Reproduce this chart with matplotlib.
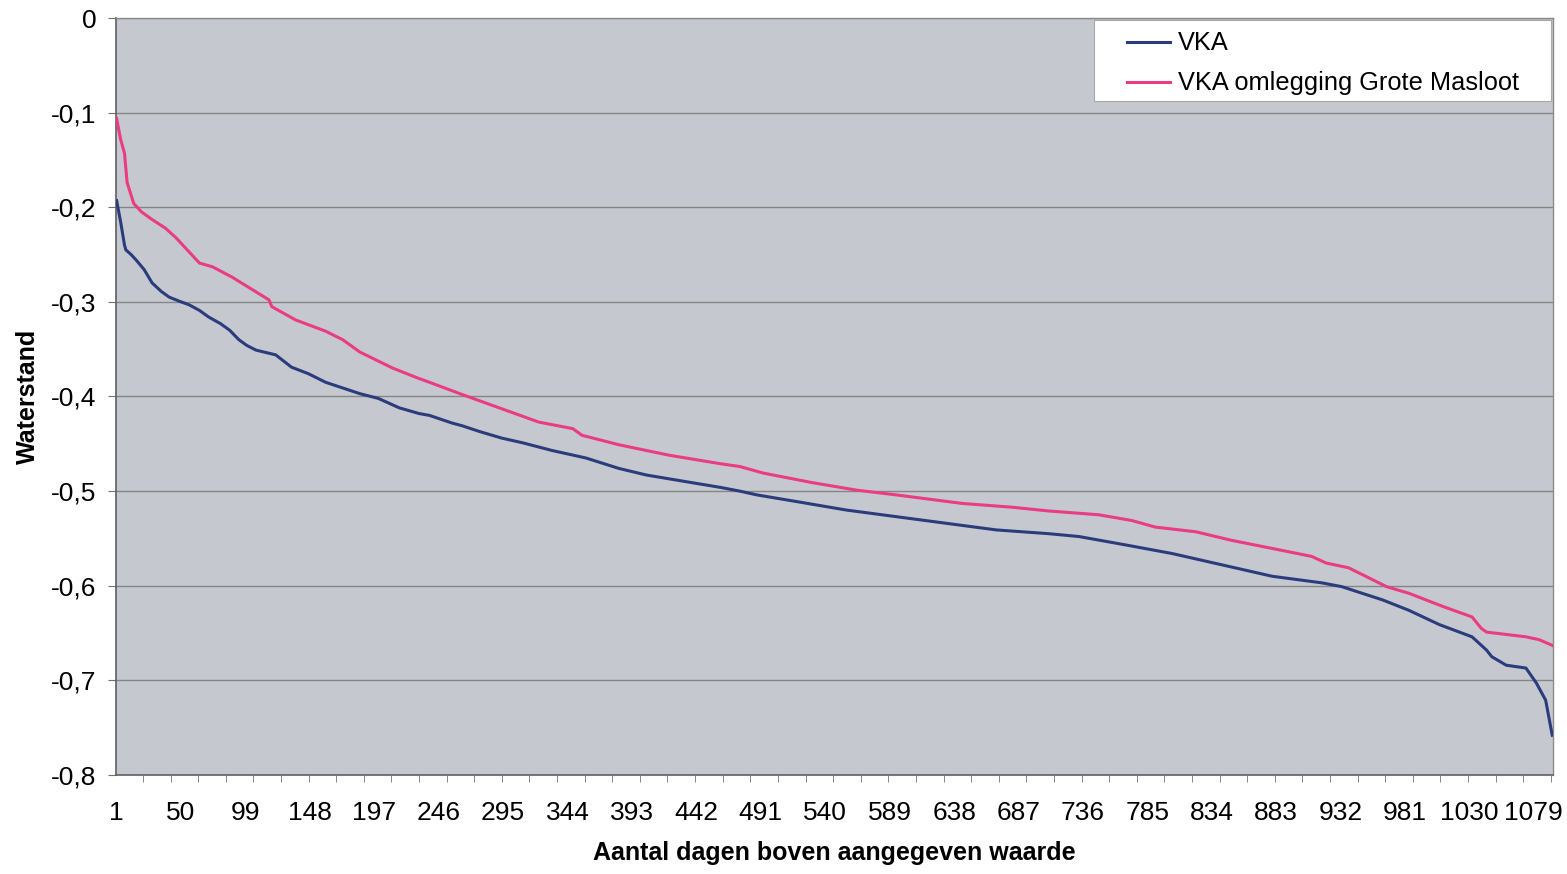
import matplotlib
matplotlib.use("Agg")
import matplotlib.pyplot as plt
from matplotlib.patches import Rectangle
from matplotlib.ticker import FuncFormatter, MultipleLocator

plt.rcParams['font.family'] = ['Liberation Sans', 'DejaVu Sans']

n_days = 1093

# overschrijdingsduur: dag-index en waterstand
vka_days = [1, 4, 7, 8, 12, 16, 22, 28, 35, 41, 50, 56, 64, 71, 80, 87, 94, 100,
            107, 122, 134, 147, 160, 173, 186, 200, 216, 231, 239, 256, 264, 277,
            294, 310, 332, 358, 383, 404, 434, 460, 475, 488, 518, 556, 594, 632,
            670, 710, 733, 769, 804, 842, 880, 918, 933, 944, 964, 984, 1007,
            1032, 1043, 1047, 1058, 1073, 1081, 1088, 1093]
vka = [-0.193, -0.215, -0.240, -0.245, -0.250, -0.256, -0.266, -0.280, -0.289,
       -0.295, -0.300, -0.303, -0.309, -0.316, -0.323, -0.330, -0.340, -0.346,
       -0.351, -0.356, -0.369, -0.376, -0.385, -0.391, -0.397, -0.402, -0.412,
       -0.418, -0.420, -0.428, -0.431, -0.437, -0.444, -0.449, -0.457, -0.465,
       -0.476, -0.483, -0.490, -0.496, -0.500, -0.504, -0.511, -0.520, -0.527,
       -0.534, -0.541, -0.545, -0.548, -0.557, -0.566, -0.578, -0.590, -0.597,
       -0.601, -0.606, -0.615, -0.626, -0.641, -0.654, -0.668, -0.675, -0.684,
       -0.687, -0.703, -0.721, -0.758]

oml_days = [1, 4, 7, 9, 14, 20, 28, 38, 46, 56, 64, 74, 89, 96, 117, 119, 137,
            160, 173, 186, 211, 231, 239, 264, 292, 322, 348, 355, 383, 421, 460,
            475, 493, 530, 564, 594, 644, 682, 710, 748, 773, 791, 822, 849, 885,
            910, 921, 938, 954, 967, 984, 1010, 1032, 1039, 1043, 1073, 1083, 1093]
oml = [-0.106, -0.128, -0.143, -0.174, -0.196, -0.205, -0.213, -0.222, -0.232,
       -0.247, -0.259, -0.263, -0.274, -0.280, -0.298, -0.305, -0.319, -0.331,
       -0.340, -0.353, -0.370, -0.381, -0.385, -0.398, -0.412, -0.427, -0.434,
       -0.441, -0.451, -0.462, -0.471, -0.474, -0.481, -0.491, -0.499, -0.504,
       -0.513, -0.517, -0.521, -0.525, -0.531, -0.538, -0.543, -0.552, -0.562,
       -0.569, -0.576, -0.581, -0.592, -0.601, -0.608, -0.622, -0.633, -0.645,
       -0.649, -0.654, -0.657, -0.663]

x_labels = list(range(1, n_days + 1, 49))
y_ticks = [0, -0.1, -0.2, -0.3, -0.4, -0.5, -0.6, -0.7, -0.8]

fig = plt.figure(figsize=(15.67, 8.74), dpi=100)
ax = fig.add_axes([0.074, 0.1133, 0.917, 0.8661])
ax.set_facecolor('#c5c9cf')

ax.plot(vka_days, vka, color='#2a3c7c', lw=2.2, label='VKA', zorder=3)
ax.plot(oml_days, oml, color='#ea3c82', lw=2.2, label='VKA omlegging Grote Masloot', zorder=3)

ax.set_xlim(0.5, n_days + 0.5)
ax.set_ylim(-0.8, 0)
ax.set_yticks(y_ticks)
ax.yaxis.set_major_formatter(FuncFormatter(lambda v, p: ('%g' % round(v, 1)).replace('.', ',')))
ax.grid(axis='y', color='#858585', lw=1.0)
ax.set_axisbelow(True)

ax.set_xticks(x_labels)
ax.xaxis.set_minor_locator(MultipleLocator(21))
ax.tick_params(axis='x', which='major', length=0, pad=19, labelsize=19)
ax.tick_params(axis='x', which='minor', length=5, color='#707070')
ax.tick_params(axis='y', length=6, pad=8, labelsize=19, color='#707070')

for side in ['left', 'bottom']:
    ax.spines[side].set_color('#606060')
    ax.spines[side].set_linewidth(1.2)
for side in ['top', 'right']:
    ax.spines[side].set_color('#8a8a8a')
    ax.spines[side].set_linewidth(1.0)

ax.set_xlabel('Aantal dagen boven aangegeven waarde', fontsize=18, fontweight='bold', labelpad=11)
ax.set_ylabel('Waterstand', fontsize=18, fontweight='bold', labelpad=8)

# witte legendakader, breder dan de inhoud
ax.add_patch(Rectangle((0.6806, 0.8904), 0.318, 0.107, transform=ax.transAxes,
                       facecolor='white', edgecolor='#a8a8a8', lw=0.8, zorder=4))
ax.legend(loc='upper left', bbox_to_anchor=(0.6956, 0.9974), fontsize=18.3,
          frameon=False, borderaxespad=0, borderpad=0.45, handlelength=1.7,
          handletextpad=0.3, labelspacing=0.63)

fig.savefig('out.png', dpi=100, facecolor='white')
